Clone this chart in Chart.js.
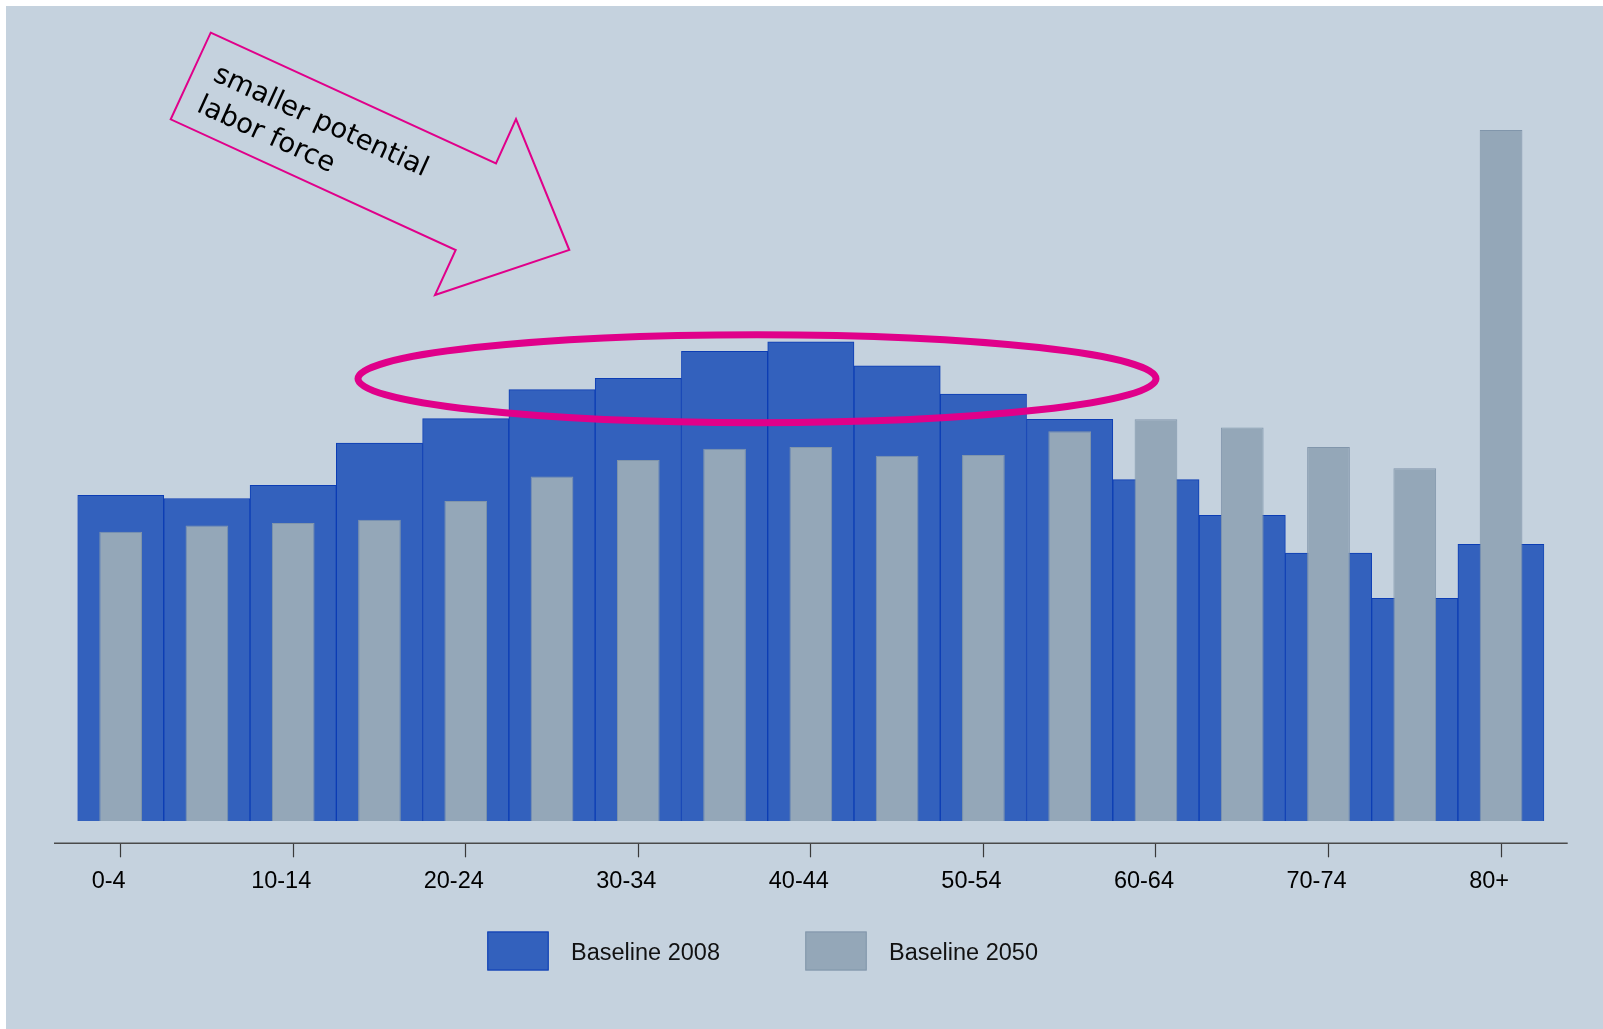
<!DOCTYPE html>
<html>
<head>
<meta charset="utf-8">
<script src="https://cdn.jsdelivr.net/npm/chart.js@4"></script>
<style>
  html, body { margin: 0; padding: 0; background: #ffffff; }
  #wrap { position: absolute; left: 0; top: 0; width: 1603px; height: 1029px; }
</style>
</head>
<body>
<div id="wrap"><canvas id="c"></canvas></div>
<script>
// ---- data (share of population, %) ----
const ageGroups = ['0-4','5-9','10-14','15-19','20-24','25-29','30-34','35-39','40-44','45-49','50-54','55-59','60-64','65-69','70-74','75-79','80+'];
const baseline2008 = [5.18, 5.13, 5.34, 6.01, 6.40, 6.86, 7.04, 7.47, 7.62, 7.24, 6.79, 6.39, 5.43, 4.86, 4.26, 3.54, 4.40];
const baseline2050 = [4.60, 4.70, 4.74, 4.79, 5.09, 5.48, 5.74, 5.92, 5.95, 5.81, 5.82, 6.20, 6.39, 6.26, 5.95, 5.61, 10.99];
const shownTickLabels = ['0-4','10-14','20-24','30-34','40-44','50-54','60-64','70-74','80+'];
const seriesNames = ['Baseline 2008', 'Baseline 2050'];
const annotationLines = ['smaller potential', 'labor force'];

const BG = '#c5d2de';
const PINK = '#e0008a';
const FONT = '"Liberation Sans", Arial, sans-serif';

const backgroundPlugin = {
  id: 'bg',
  beforeDraw(chart) {
    const ctx = chart.ctx;
    ctx.save();
    ctx.fillStyle = BG;
    ctx.fillRect(6, 6, chart.width - 6, chart.height - 6);
    ctx.restore();
  }
};

const axisLinePlugin = {
  id: 'axisLine',
  beforeDatasetsDraw(chart) {
    const ctx = chart.ctx, a = chart.chartArea;
    const y = chart.scales.x.top;
    ctx.save();
    ctx.strokeStyle = '#4a4a4a';
    ctx.lineWidth = 1.5;
    ctx.beginPath();
    ctx.moveTo(a.left - 23.5, y);
    ctx.lineTo(a.right + 23.5, y);
    ctx.stroke();
    ctx.restore();
  }
};

const annotationPlugin = {
  id: 'annot',
  afterDatasetsDraw(chart) {
    const ctx = chart.ctx;
    ctx.save();
    // ellipse around the working-age bars
    ctx.strokeStyle = PINK;
    ctx.lineWidth = 7;
    ctx.beginPath();
    ctx.ellipse(757, 378.7, 399, 44, 0, 0, Math.PI * 2);
    ctx.stroke();
    // arrow outline
    ctx.lineWidth = 2;
    ctx.lineJoin = 'miter';
    ctx.beginPath();
    const pts = [[210.7,32.7],[496,163.3],[516,119],[569.3,250],[435,295],[455.7,250],[170.7,119.3]];
    ctx.moveTo(pts[0][0], pts[0][1]);
    for (let i = 1; i < pts.length; i++) ctx.lineTo(pts[i][0], pts[i][1]);
    ctx.closePath();
    ctx.stroke();
    // rotated text
    ctx.translate(212, 80);
    ctx.rotate(24.6 * Math.PI / 180);
    ctx.fillStyle = '#000';
    ctx.font = '27.5px "DejaVu Sans", Verdana, sans-serif';
    ctx.textBaseline = 'alphabetic';
    ctx.textAlign = 'left';
    annotationLines.forEach((t, i) => ctx.fillText(t, i === 1 ? -2 : 0, i * 35));
    ctx.restore();
  }
};

const legendPlugin = {
  id: 'customLegend',
  afterDraw(chart) {
    const ctx = chart.ctx;
    const xs = [487.3, 805.3];
    ctx.save();
    chart.data.datasets.forEach((ds, i) => {
      const x = xs[i], y = 931.5, w = 61.4, h = 39;
      ctx.fillStyle = ds.backgroundColor;
      ctx.fillRect(x, y, w, h);
      ctx.strokeStyle = ds.borderColor;
      ctx.lineWidth = 1;
      ctx.strokeRect(x + 0.5, y + 0.5, w - 1, h - 1);
      ctx.fillStyle = '#111';
      ctx.font = '23.5px ' + FONT;
      ctx.textBaseline = 'middle';
      ctx.textAlign = 'left';
      ctx.fillText(ds.label, x + 83.7, y + h / 2 + 2.5);
    });
    ctx.restore();
  }
};

new Chart(document.getElementById('c'), {
  type: 'bar',
  data: {
    labels: ageGroups,
    datasets: [
      {
        label: seriesNames[0],
        data: baseline2008,
        backgroundColor: '#3361bd',
        borderColor: '#0c3db4',
        borderWidth: 1,
        barPercentage: 1,
        categoryPercentage: 1,
        grouped: false,
        order: 1
      },
      {
        label: seriesNames[1],
        data: baseline2050,
        backgroundColor: '#94a7b8',
        borderColor: '#8196ab',
        borderWidth: 1,
        barPercentage: 0.495,
        categoryPercentage: 1,
        grouped: false,
        order: 0
      }
    ]
  },
  options: {
    responsive: true,
    maintainAspectRatio: false,
    animation: false,
    layout: { padding: { left: 77.5, right: 58.8, top: 35.1, bottom: 125.7 } },
    plugins: {
      legend: { display: false },
      tooltip: { enabled: false }
    },
    scales: {
      x: {
        offset: true,
        grid: {
          offset: false,
          drawOnChartArea: false,
          drawTicks: true,
          tickLength: 14,
          tickColor: '#3a3a3a',
          tickWidth: 1.2
        },
        border: { display: false },
        ticks: {
          autoSkip: false,
          maxRotation: 0,
          padding: 10.5,
          labelOffset: -12,
          color: '#000',
          font: { family: FONT, size: 23.5 }
        },
        afterBuildTicks(scale) {
          scale.ticks = scale.ticks.filter(t => shownTickLabels.includes(ageGroups[t.value]));
        },
        afterFit(scale) { scale.height = 60; }
      },
      y: {
        display: false,
        min: -0.3547,
        max: 12.5
      }
    }
  },
  plugins: [backgroundPlugin, axisLinePlugin, annotationPlugin, legendPlugin]
});
</script>
</body>
</html>
